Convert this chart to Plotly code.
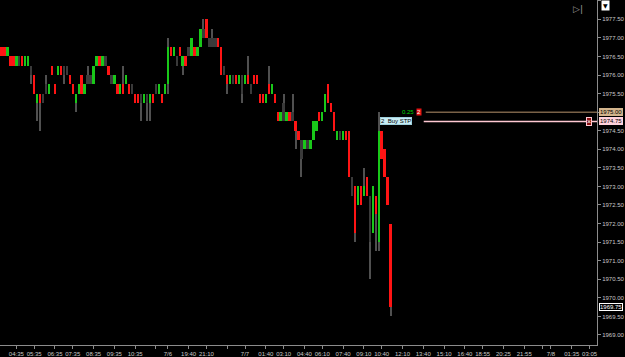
import plotly.graph_objects as go

# ---------------- data (range bars, 0.25 tick) ----------------
open_ = [1976.75,1976.75,1976.50,1976.50,1976.50,1976.25,1976.25,1976.50,1976.25,1976.25,
         1976.25,1976.00,1975.25,1975.50,1975.25,1975.50,1975.50,1976.25,1975.75,1976.00,
         1976.25,1976.00,1976.00,1976.00,1975.75,1975.25,1975.50,1976.00,1975.50,1975.75,
         1975.75,1975.75,1976.25,1976.50,1976.25,1976.25,1976.25,1975.75,1975.75,1975.75,
         1975.50,1975.75,1975.75,1975.75,1975.50,1975.50,1975.50,1975.25,1975.25,1975.25,
         1975.25,1975.50,1975.50,1975.50,1975.50,1975.50,1975.75,1976.75,1976.50,1976.25,
         1976.75,1976.25,1976.50,1976.50,1976.50,1976.75,1976.50,1976.75,1977.00,1977.50,
         1976.75,1976.75,1976.75,1977.00,1976.75,1976.00,1976.00,1975.75,1975.75,1976.00,
         1975.75,1975.50,1975.75,1976.00,1975.50,1976.00,1976.00,1975.50,1975.50,1975.25,
         1975.75,1975.50,1975.50,1975.00,1974.75,1974.75,1974.75,1975.00,1974.75,1974.75,
         1974.50,1973.75,1974.00,1974.00,1974.00,1974.25,1974.50,1975.00,1974.75,1975.00,
         1975.75,1975.25,1975.00,1974.25,1974.25,1974.25,1974.50,1974.50,1972.75,1973.00,
         1972.50,1973.00,1972.75,1973.25,1971.50,1971.75,1972.75,1971.50,1974.50,1974.00,
         1973.25,1972.00]
close = [1976.50,1976.50,1976.75,1976.25,1976.25,1976.50,1976.50,1976.25,1976.50,1976.50,
         1976.00,1975.50,1975.50,1975.25,1975.50,1975.75,1975.75,1976.00,1975.50,1976.25,
         1976.00,1976.25,1976.25,1975.75,1975.50,1975.50,1975.75,1975.50,1975.75,1976.00,
         1976.00,1976.25,1976.50,1976.25,1976.50,1976.50,1976.00,1976.00,1976.00,1975.50,
         1975.75,1975.50,1976.00,1975.50,1975.75,1975.25,1975.25,1975.50,1975.50,1975.50,
         1975.50,1975.25,1975.75,1975.75,1975.25,1975.75,1976.75,1976.50,1976.75,1976.50,
         1976.50,1976.50,1976.25,1976.75,1977.00,1976.50,1976.75,1977.25,1977.25,1977.00,
         1977.00,1977.00,1977.00,1976.75,1976.00,1976.25,1975.75,1976.00,1976.00,1975.75,
         1976.00,1976.00,1976.00,1975.75,1975.75,1975.75,1975.75,1975.25,1975.25,1975.50,
         1975.50,1975.75,1975.25,1974.75,1975.00,1975.25,1975.00,1974.75,1975.00,1974.50,
         1974.25,1974.25,1974.25,1974.25,1974.25,1974.75,1974.75,1974.75,1975.00,1975.50,
         1975.25,1975.00,1974.50,1974.50,1974.50,1974.50,1974.25,1973.25,1973.25,1971.75,
         1973.00,1972.50,1973.00,1972.75,1972.75,1973.00,1972.25,1974.50,1973.75,1973.25,
         1972.50,1969.75]
high = [1976.75,1976.75,1976.75,1976.50,1976.50,1976.50,1976.50,1976.50,1976.50,1976.50,
        1976.25,1976.00,1975.50,1975.50,1975.50,1976.00,1975.75,1976.25,1975.75,1976.25,
        1976.25,1976.25,1976.25,1976.00,1975.75,1975.50,1975.75,1976.00,1975.75,1976.25,
        1976.00,1976.25,1976.50,1976.50,1976.50,1976.50,1976.25,1976.00,1976.00,1975.75,
        1975.75,1976.25,1976.00,1975.75,1975.75,1975.50,1975.50,1975.50,1975.50,1975.50,
        1975.50,1975.50,1975.75,1975.75,1975.50,1975.75,1977.00,1976.75,1976.75,1976.50,
        1976.75,1976.50,1976.50,1976.75,1977.00,1976.75,1976.75,1977.25,1977.50,1977.50,
        1977.00,1977.25,1977.00,1977.00,1976.75,1976.25,1976.00,1976.00,1976.00,1976.00,
        1976.00,1976.00,1976.00,1976.50,1975.75,1976.00,1976.00,1975.50,1975.50,1975.50,
        1976.25,1975.75,1975.50,1975.00,1975.00,1975.50,1975.00,1975.00,1975.50,1974.75,
        1974.50,1974.25,1974.25,1974.25,1974.25,1974.75,1974.75,1975.00,1975.00,1975.50,
        1975.75,1975.25,1975.00,1974.50,1974.50,1974.50,1974.50,1974.50,1973.25,1973.00,
        1973.00,1973.00,1973.50,1973.25,1972.75,1973.00,1972.75,1975.00,1974.50,1974.00,
        1973.25,1972.00]
low = [1976.50,1976.50,1976.50,1976.25,1976.25,1976.25,1976.25,1976.25,1976.25,1976.25,
       1975.75,1975.50,1974.75,1974.50,1975.25,1975.50,1975.50,1976.00,1975.50,1976.00,
       1976.00,1975.75,1976.00,1975.75,1975.50,1975.00,1975.50,1975.50,1975.50,1975.75,
       1975.75,1975.75,1976.25,1976.25,1976.25,1976.25,1976.00,1975.75,1975.75,1975.50,
       1975.50,1975.50,1975.75,1975.50,1975.50,1975.25,1975.25,1974.75,1975.25,1974.75,
       1974.75,1975.25,1975.50,1975.50,1975.25,1975.50,1975.50,1976.50,1976.50,1976.25,
       1976.50,1976.00,1976.25,1976.50,1976.50,1976.50,1976.50,1976.75,1977.00,1977.00,
       1976.75,1976.75,1976.75,1976.75,1976.00,1976.00,1975.50,1975.75,1975.75,1975.75,
       1975.75,1975.25,1975.75,1975.75,1975.50,1975.75,1975.75,1975.25,1975.25,1975.25,
       1975.50,1975.50,1975.25,1974.75,1974.75,1974.75,1974.75,1974.75,1974.75,1974.00,
       1974.25,1973.25,1974.00,1974.00,1974.00,1974.25,1974.50,1974.75,1974.75,1975.00,
       1975.25,1975.00,1974.50,1974.25,1974.25,1974.25,1974.25,1973.25,1972.75,1971.50,
       1972.50,1972.50,1972.75,1972.75,1970.50,1971.75,1971.25,1971.25,1973.75,1973.25,
       1972.50,1969.50]
neutral = [0,0,0,0,0,0,1,0,0,0, 1,0,0,0,1,1,0,0,0,0, 0,1,1,0,0,0,0,0,0,1,
           1,0,0,0,0,1,0,1,0,0, 0,0,0,0,1,0,0,1,0,1, 0,0,1,0,0,0,0,0,0,1,
           0,0,0,1,0,0,0,0,1,0, 1,1,1,0,0,1,0,0,1,0, 0,1,0,0,1,0,0,0,0,0,
           0,0,0,0,0,1,0,0,1,0, 0,1,0,1,0,0,0,0,0,0, 0,0,0,0,1,0,0,0,1,0,
           0,0,0,0,1,0,0,0,0,0, 0,0]

y_ticks = [1969.00 + 0.5 * k for k in range(19)]
x_tick_pos = [5, 11, 18, 24, 31, 38, 45, 52, 56, 63, 69, 76, 82, 89, 95, 102, 108, 115,
              122, 128, 135, 142, 149, 156, 162, 169, 176, 182, 185, 192, 198]
x_tick_text = ["04:35", "05:35", "06:35", "07:35", "08:35", "09:35", "10:35", "", "7/6",
               "19:40", "21:10", "", "7/7", "01:40", "03:10", "04:40", "06:10", "07:40",
               "09:10", "10:40", "12:10", "13:40", "15:10", "16:40", "18:55", "20:25",
               "21:55", "", "7/8", "01:35", "03:05"]

order_prices = [1975.00, 1974.75]     # stop order / buy-stop order lines
order_qty = ["2", "2  Buy STP"]
pnl_text = "0.25"
last_price = close[-1]

# ---------------- figure ----------------
n = len(close)
xs = list(range(n))
UP, DN, NEU = "#19c819", "#ff1414", "#3a3a3a"

body_base = [min(o, c) for o, c in zip(open_, close)]
body_h = [abs(c - o) for o, c in zip(open_, close)]
body_col = [NEU if nz else (UP if c > o else DN) for o, c, nz in zip(open_, close, neutral)]
wick_h = [h - l for h, l in zip(high, low)]

fig = go.Figure()
fig.add_trace(go.Bar(x=xs, y=wick_h, base=low, width=0.34, hoverinfo="skip",
                     marker=dict(color="#505050", line=dict(width=0))))
fig.add_trace(go.Bar(x=xs, y=body_h, base=body_base, width=0.8,
                     marker=dict(color=body_col, line=dict(width=0))))

PX = 603.0
def px(v):
    return v / PX

line_cols = ["#7a6248", "#ffc8d2"]
line_starts = [px(430), px(428)]
for p, col, x0 in zip(order_prices, line_cols, line_starts):
    fig.add_shape(type="line", xref="paper", yref="y", x0=x0, x1=1.0, y0=p, y1=p,
                  line=dict(color=col, width=1.5))

small = dict(family="Liberation Sans, Arial", size=6)
# order labels
fig.add_annotation(xref="paper", yref="y", x=px(420), y=order_prices[0], text=pnl_text,
                   showarrow=False, xanchor="right", font=dict(small, color="#00d000"))
fig.add_annotation(xref="paper", yref="y", x=px(426), y=order_prices[0], text=order_qty[0],
                   showarrow=False, bgcolor="#e51414", borderpad=0,
                   font=dict(small, color="#ffffff"))
fig.add_annotation(xref="paper", yref="y", x=px(416), y=order_prices[1], text=order_qty[1],
                   showarrow=False, bgcolor="#c8ecf4", bordercolor="#9fd0dc", borderpad=0,
                   font=dict(small, color="#000000"))
fig.add_annotation(xref="paper", yref="y", x=px(598), y=order_prices[1], text="×",
                   showarrow=False, bgcolor="#8a0f0f", bordercolor="#ffc8d2", borderpad=0,
                   font=dict(family="Liberation Sans", size=7, color="#ffffff"))
# axis price tags (they cover the regular tick label at the same price)
tag_styles = [("#d2b48c", "#000000", "#d2b48c"), ("#ffd2dc", "#000000", "#ffd2dc"),
              ("#000000", "#ffffff", "#ffffff")]
tag_prices = order_prices + [last_price]
for p, (bg, fc, bc) in zip(tag_prices, tag_styles):
    fig.add_annotation(xref="paper", yref="y", x=1.0, y=p, text=f"{p:.2f}", showarrow=False,
                       xanchor="left", xshift=2, bgcolor=bg, bordercolor=bc, borderpad=0,
                       font=dict(small, color=fc))
y_tick_text = ["" if v in tag_prices else f"{v:.2f}" for v in y_ticks]

# top-right controls
fig.add_annotation(xref="paper", yref="paper", x=1.0, y=1.0, text="▼", showarrow=False,
                   xanchor="left", yanchor="top", xshift=4, bgcolor="#ffffff",
                   borderpad=1, font=dict(family="DejaVu Sans", size=6, color="#000000"))
fig.add_annotation(xref="paper", yref="paper", x=px(591), y=1.0, text="▷|", showarrow=False,
                   yanchor="top", yshift=-2, font=dict(family="DejaVu Sans", size=9, color="#9a9a9a"))

fig.update_layout(
    width=625, height=357,
    margin=dict(l=0, r=22, t=0, b=10),
    paper_bgcolor="#000000", plot_bgcolor="#000000",
    showlegend=False, barmode="overlay", bargap=0,
    font=dict(family="Liberation Sans, Arial", size=6, color="#c8c8c8"),
    xaxis=dict(range=[-0.5, 200.5], showgrid=False, zeroline=False, showline=True,
               linecolor="#8c8c8c", linewidth=1, ticks="outside", ticklen=3,
               tickcolor="#8c8c8c", tickvals=x_tick_pos, ticktext=x_tick_text,
               tickfont=dict(size=6, color="#c8c8c8")),
    yaxis=dict(side="right", range=[1968.73, 1978.02], tickvals=y_ticks,
               ticktext=y_tick_text, showgrid=False, zeroline=False, showline=True,
               linecolor="#8c8c8c", linewidth=1, ticks="outside", ticklen=3,
               tickcolor="#8c8c8c", tickfont=dict(size=6, color="#c8c8c8")),
)

fig.write_html("out.html")
